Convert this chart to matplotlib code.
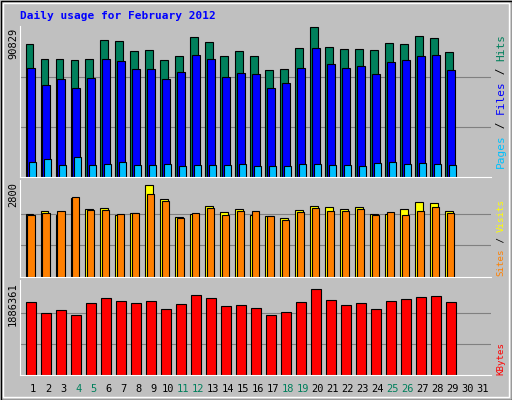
import matplotlib
matplotlib.use("Agg")
import matplotlib.pyplot as plt
import numpy as np

days = list(range(1, 30))
day_labels = [str(d) for d in range(1, 32)]
weekend = [4, 5, 11, 12, 18, 19, 25, 26]
hits = [80100,71040,71040,70430,71040,82540,81930,75880,76480,70430,72850,84360,81330,72850,75880,72850,64980,65590,77700,90829,78300,77090,77090,76480,80720,80120,84960,83750,75270]
files = [66190,55900,59530,54080,60140,71040,69830,65590,65590,59530,63770,73460,71040,60740,63170,62560,54080,57110,66190,77700,68010,66190,66800,62560,69220,70430,72850,73460,64980]
pages = [9280,11100,7470,12310,7470,8070,9280,7470,7470,8070,6860,7470,7470,7470,8070,6860,6860,6860,8070,8070,7470,7470,6860,8680,9280,8070,8680,8070,7470]
visits = [1867,1955,1837,2338,2014,2044,1837,1896,2722,2309,1778,1867,2103,1926,2014,1837,1808,1749,1985,2103,2073,2014,2073,1867,1867,2014,2220,2191,1955]
sites = [1837,1896,1955,2368,1985,1985,1867,1896,2456,2250,1749,1896,2044,1837,1955,1955,1808,1690,1926,2044,1955,1955,2014,1837,1926,1837,1955,2073,1896]
kbytes = [1473000,1264000,1321000,1207000,1454000,1569000,1492000,1454000,1492000,1340000,1435000,1626000,1569000,1397000,1416000,1359000,1207000,1283000,1473000,1740000,1512000,1416000,1454000,1340000,1492000,1531000,1588000,1607000,1473000]
max_hits, max_visits, max_kb = 90829, 2800, 1886361

W, H = 512, 400
fig = plt.figure(figsize=(W/100, H/100), dpi=100)
fig.patch.set_facecolor("#C0C0C0")
mono = "DejaVu Sans Mono"
gray = "#C0C0C0"

def ax_at(x0, y0, x1, y1):
    return fig.add_axes([x0/W, 1-y1/H, (x1-x0)/W, (y1-y0)/H])

fig.add_artist(plt.Rectangle((0.5/W, 0.5/H), 1-1/W, 1-1/H, transform=fig.transFigure, fill=False, ec="black", lw=1))
fig.add_artist(plt.Rectangle((3/W, 3/H), 1-6/W, 1-6/H, transform=fig.transFigure, fill=False, ec="white", lw=1))
fig.text(20/W, 1-16/H, "Daily usage for February 2012", color="#0000FF", fontsize=8, fontweight="bold", family=mono, va="center")

d = np.array(days)
x0lim, x1lim = 0.12, 31.55
panels = [(26, 177), (180, 277), (280, 375)]
axes = []
for (ya, yb) in panels:
    ax = ax_at(20, ya, 491, yb)
    ax.set_facecolor(gray)
    ax.set_xlim(x0lim, x1lim)
    ax.set_xticks([]); ax.set_yticks([])
    for s in ["top", "right"]:
        ax.spines[s].set_visible(False)
    for s in ["left", "bottom"]:
        ax.spines[s].set_color("white")
    axes.append(ax)

ek = dict(edgecolor="black", linewidth=0.8, align="edge")
a1, a2, a3 = axes
a1.set_ylim(0, max_hits*1.005)
for g in [1/3, 2/3]:
    a1.axhline(max_hits*g, color="#808080", lw=0.8, zorder=0)
a1.bar(d-0.51, hits, 0.5, color="#00805C", **ek)
a1.bar(d-0.38, files, 0.5, color="#0000FF", **ek)
a1.bar(d-0.25, pages, 0.45, color="#00C0FF", **ek)

a2.set_ylim(0, max_visits*1.02)
for g in [1/3, 2/3]:
    a2.axhline(max_visits*g, color="#808080", lw=0.8, zorder=0)
a2.bar(d-0.51, visits, 0.5, color="#FFFF00", **ek)
a2.bar(d-0.38, sites, 0.47, color="#FF8000", **ek)

a3.set_ylim(0, max_kb*1.02)
for g in [1/3, 2/3]:
    a3.axhline(max_kb*g, color="#808080", lw=0.8, zorder=0)
a3.bar(d-0.45, kbytes, 0.65, color="#FF0000", **ek)

for (ya, yb), lab in zip(panels, ["90829", "2800", "1886361"]):
    fig.text(13/W, 1-(ya+2)/H, lab, rotation=90, fontsize=7.5, family=mono, va="top", ha="center")

def right_label(parts, ybot, fs):
    cw = 0.602*fs*100/72
    y = ybot
    for txt, col in parts:
        fig.text(501/W, 1-y/H, txt, rotation=90, fontsize=fs, family=mono, color=col, va="bottom", ha="center")
        y -= len(txt)*cw
right_label([("Pages", "#00C0FF"), (" / ", "black"), ("Files", "#0000FF"), (" / ", "black"), ("Hits", "#00805C")], 168, 8)
right_label([("Sites", "#FF8000"), (" / ", "black"), ("Visits", "#FFFF00")], 276, 6.6)
right_label([("KBytes", "#FF0000")], 375, 6.6)

for i, lab in enumerate(day_labels):
    day = i + 1
    xpix = 20 + (day - x0lim)/(x1lim - x0lim)*471
    fig.text(xpix/W, 1-389/H, lab, fontsize=7.5, family=mono, ha="center", va="center",
             color="#00805C" if day in weekend else "black")

fig.savefig("out.png", dpi=100, facecolor=fig.get_facecolor())
